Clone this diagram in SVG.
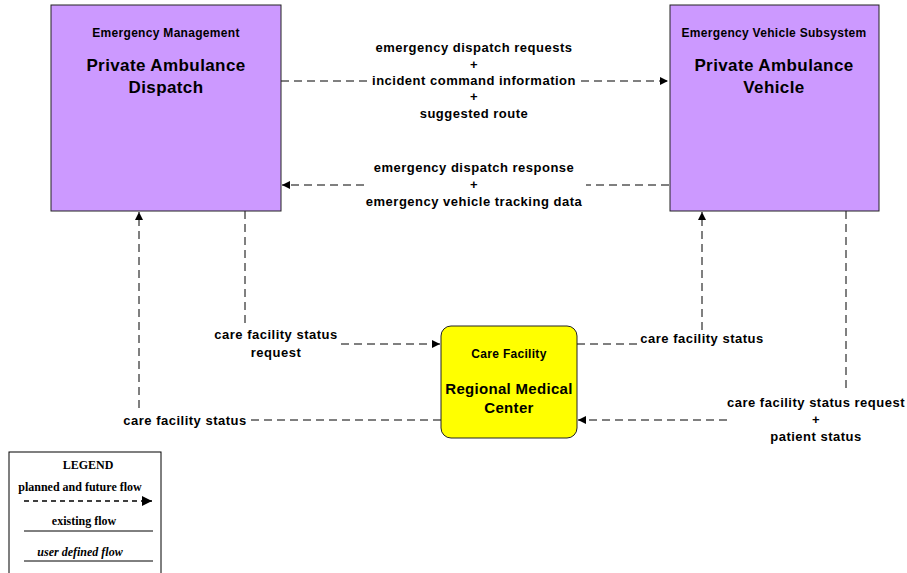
<svg xmlns="http://www.w3.org/2000/svg" width="907" height="573" viewBox="0 0 907 573">
<defs>
<marker id="arr" viewBox="0 0 10 10" refX="10" refY="5" markerWidth="9" markerHeight="8" markerUnits="userSpaceOnUse" orient="auto">
<path d="M0,0 L10,5 L0,10 Z" fill="#000"/>
</marker>
<marker id="arrL" viewBox="0 0 10 10" refX="10" refY="5" markerWidth="11" markerHeight="10" markerUnits="userSpaceOnUse" orient="auto">
<path d="M0,0 L10,5 L0,10 Z" fill="#000"/>
</marker>
<style>
.box{fill:#CC99FF;stroke:#222;stroke-width:1}
.cf{fill:#FFFF00;stroke:#222;stroke-width:1}
.hdr{font-family:"Liberation Sans",Arial,sans-serif;font-weight:bold;font-size:12px;letter-spacing:0.3px;text-anchor:middle;fill:#000}
.ttl{font-family:"Liberation Sans",Arial,sans-serif;font-weight:bold;font-size:17px;letter-spacing:0.4px;text-anchor:middle;fill:#000}
.lbl{font-family:"Liberation Sans",Arial,sans-serif;font-weight:bold;font-size:13px;letter-spacing:0.5px;text-anchor:middle;fill:#000}
.flow{fill:none;stroke:#000;stroke-width:1;stroke-dasharray:8,5}
.leg{font-family:"Liberation Serif","Times New Roman",serif;font-weight:bold;font-size:12px;text-anchor:middle;fill:#000}
</style>
</defs>
<rect width="907" height="573" fill="#fff"/>

<g id="connectors">
<path class="flow" d="M281,81 H368 M581,81 H668" marker-end="url(#arr)"/>
<path class="flow" d="M669,185 H586 M364,185 H282" marker-end="url(#arr)"/>
<path class="flow" d="M245,211 V325"/>
<path class="flow" d="M341,344 H440" marker-end="url(#arr)"/>
<path class="flow" d="M441,420 H250"/>
<path class="flow" d="M139,408 V212" marker-end="url(#arr)"/>
<path class="flow" d="M577,344 H637"/>
<path class="flow" d="M702,330 V212" marker-end="url(#arr)"/>
<path class="flow" d="M846,211 V389"/>
<path class="flow" d="M727,420 H578" marker-end="url(#arr)"/>
</g>

<g id="labels">
<text class="lbl" x="474" y="52">emergency dispatch requests</text>
<text class="lbl" x="474" y="69">+</text>
<text class="lbl" x="474" y="85">incident command information</text>
<text class="lbl" x="474" y="101">+</text>
<text class="lbl" x="474" y="118">suggested route</text>
<text class="lbl" x="474" y="172">emergency dispatch response</text>
<text class="lbl" x="474" y="189">+</text>
<text class="lbl" x="474" y="206">emergency vehicle tracking data</text>
<text class="lbl" x="276" y="339">care facility status</text>
<text class="lbl" x="276" y="357">request</text>
<text class="lbl" x="185" y="425">care facility status</text>
<text class="lbl" x="702" y="343">care facility status</text>
<text class="lbl" x="816" y="407">care facility status request</text>
<text class="lbl" x="816" y="424">+</text>
<text class="lbl" x="816" y="441">patient status</text>
</g>

<g id="dispatch">
<rect class="box" x="51" y="5" width="230" height="206"/>
<text class="hdr" x="166" y="37">Emergency Management</text>
<text class="ttl" x="166" y="71">Private Ambulance</text>
<text class="ttl" x="166" y="93">Dispatch</text>
</g>

<g id="vehicle">
<rect class="box" x="670" y="5" width="209" height="206"/>
<text class="hdr" x="774" y="37">Emergency Vehicle Subsystem</text>
<text class="ttl" x="774" y="71">Private Ambulance</text>
<text class="ttl" x="774" y="93">Vehicle</text>
</g>

<g id="carefacility">
<rect class="cf" x="441" y="326" width="136" height="112" rx="10" ry="10"/>
<text class="hdr" x="509" y="358">Care Facility</text>
<text class="ttl" x="509" y="394" style="font-size:15px;letter-spacing:0.3px">Regional Medical</text>
<text class="ttl" x="509" y="413" style="font-size:15px;letter-spacing:0.3px">Center</text>
</g>

<g id="legend">
<rect x="9" y="452" width="152" height="130" fill="#fff" stroke="#000" stroke-width="1"/>
<text class="leg" x="88" y="469">LEGEND</text>
<text class="leg" x="80" y="491">planned and future flow</text>
<path d="M24,501 H152" fill="none" stroke="#000" stroke-width="1.5" stroke-dasharray="5,4" marker-end="url(#arrL)"/>
<text class="leg" x="84" y="525">existing flow</text>
<path d="M24,531 H153" stroke="#000" stroke-width="1"/>
<text class="leg" x="80" y="556" font-style="italic">user defined flow</text>
<path d="M24,561 H153" stroke="#000" stroke-width="1"/>
</g>
</svg>
